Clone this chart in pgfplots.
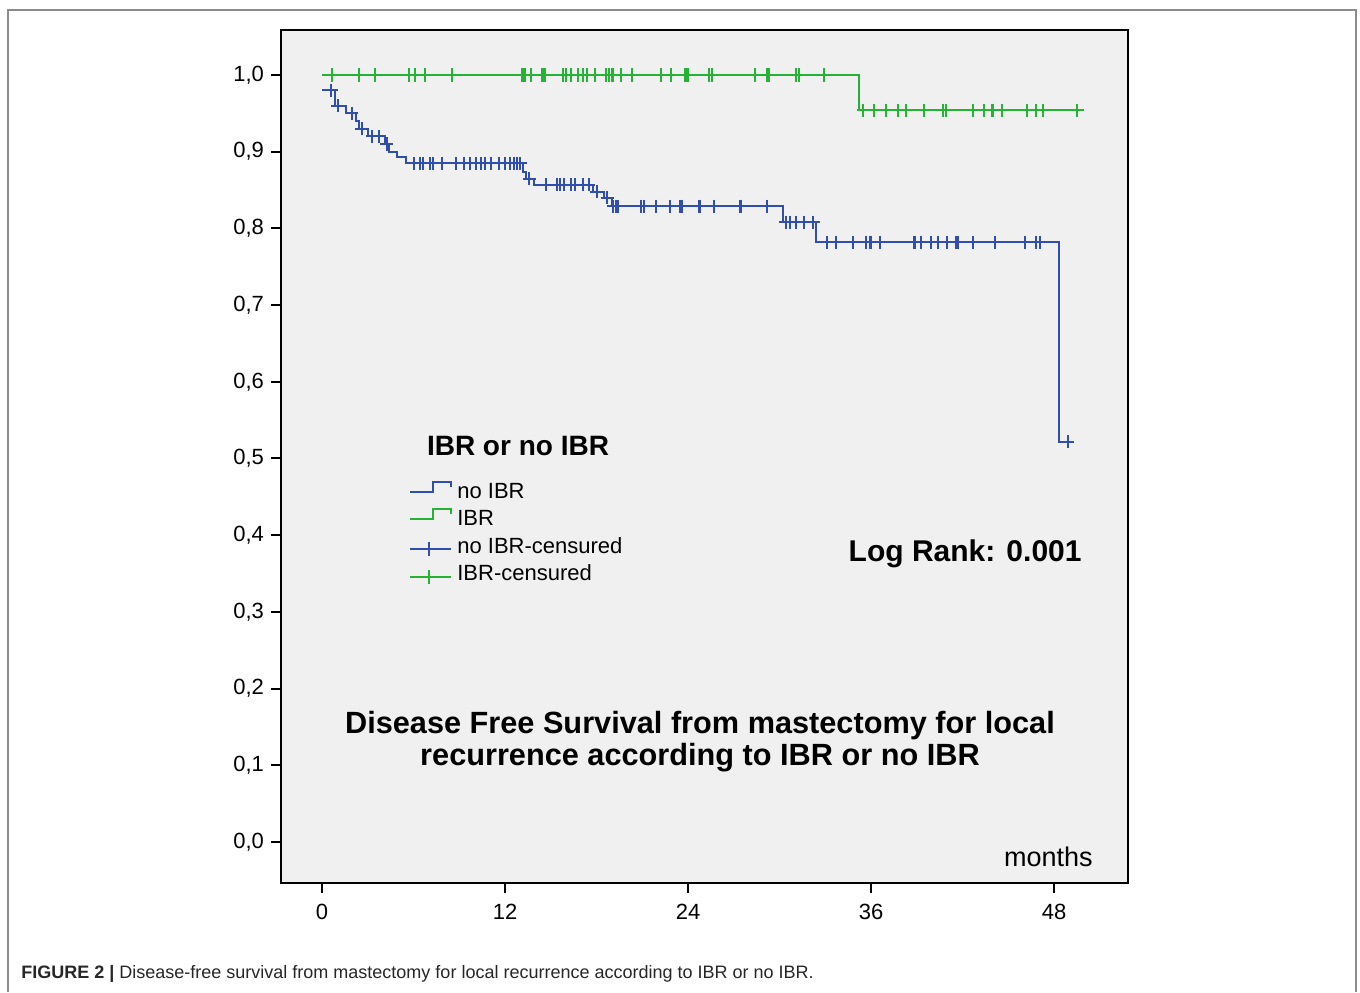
\documentclass[border=0pt]{standalone}
\usepackage{pgfplots}
\pgfplotsset{compat=1.18}
\usepackage{fontspec}
\setmainfont{Liberation Sans}
\definecolor{kmblue}{RGB}{48,78,172}
\definecolor{kmgreen}{RGB}{38,178,52}
\definecolor{plotbg}{RGB}{240,240,240}
\definecolor{framegray}{RGB}{140,140,140}
\begin{document}
\begin{tikzpicture}
\path[use as bounding box] (0pt,0pt) rectangle (680pt,496pt);
\draw[framegray, line width=0.9pt] (4pt,0pt) -- (4pt,491pt) -- (678pt,491pt) -- (678pt,0pt);
\begin{axis}[
  at={(140.5pt,54.5pt)}, anchor=south west,
  scale only axis, width=423.5pt, height=426.5pt,
  xmin=-2.689, xmax=52.85, ymin=-0.0535, ymax=1.0587,
  axis background/.style={fill=plotbg},
  axis line style={black, line width=1.3pt},
  xtick={0,12,24,36,48},
  ytick={0,0.1,0.2,0.3,0.4,0.5,0.6,0.7,0.8,0.9,1.0},
  xtick pos=bottom, ytick pos=left,
  tick align=outside, major tick length=5pt,
  tick style={black, line width=1pt},
  /pgf/number format/assume math mode=true,
  yticklabel style={/pgf/number format/.cd, fixed, fixed zerofill, precision=1, use comma},
  xticklabel style={yshift=-2pt},
  ticklabel style={font=\fontsize{11}{13}\selectfont},
  legend style={at={(rel axis cs:0.1515,0.4744)}, anchor=north west, draw=none, fill=none,
    inner sep=0pt, outer sep=0pt, row sep=0pt, column sep=2.5pt,
    font=\fontsize{11}{13}\selectfont,
    nodes={inner sep=0pt, text height=10pt, text depth=3.7pt}},
  legend cell align=left,
]
\addplot[const plot, kmblue, line width=1pt, no marks,
  legend image code/.code={\draw[kmblue, line width=1pt] (0pt,0pt) -- (11.5pt,0pt) -- (11.5pt,5pt) -- (20.5pt,5pt) -- (20.5pt,2.5pt);}]
coordinates {
(0,0.980) (0.85,0.960) (1.6,0.950) (2.2,0.940) (2.4,0.930) (3.0,0.920) (4.1,0.910)
(4.4,0.900) (4.9,0.893) (5.5,0.885) (13.2,0.873) (13.4,0.865) (13.9,0.857)
(17.8,0.848) (18.5,0.840) (19.0,0.829) (30.2,0.808) (32.4,0.782) (48.3,0.522) (48.9,0.522)
};
\addlegendentry{no IBR}
\addplot[const plot, kmgreen, line width=1pt, no marks,
  legend image code/.code={\draw[kmgreen, line width=1pt] (0pt,0pt) -- (11.5pt,0pt) -- (11.5pt,5pt) -- (20.5pt,5pt) -- (20.5pt,2.5pt);}]
coordinates {(0,1.0) (35.2,0.954) (49.5,0.954)};
\addlegendentry{IBR}
\addplot[only marks, mark=+, mark size=3.3pt, kmblue, mark options={line width=1pt},
  legend image code/.code={\draw[kmblue, line width=1pt] (0pt,-1.2pt) -- (20.5pt,-1.2pt); \draw[kmblue, line width=1pt] (9.5pt,-4.7pt) -- (9.5pt,2.3pt);}]
coordinates {
(0.6,0.980) (1.05,0.960) (1.95,0.950) (2.6,0.930) (3.3,0.920) (3.75,0.920) (4.25,0.910)
(6.0,0.885) (6.4,0.885) (6.6,0.885) (7.1,0.885) (7.3,0.885) (7.9,0.885) (8.8,0.885)
(9.3,0.885) (9.7,0.885) (10.1,0.885) (10.4,0.885) (10.7,0.885) (11.1,0.885) (11.6,0.885)
(12.0,0.885) (12.3,0.885) (12.6,0.885) (12.8,0.885) (13.0,0.885)
(13.6,0.865)
(14.7,0.857) (15.4,0.857) (15.6,0.857) (15.9,0.857) (16.3,0.857) (16.6,0.857) (17.1,0.857) (17.5,0.857)
(18.0,0.848) (18.7,0.840)
(19.1,0.829) (19.3,0.829) (19.4,0.829) (20.9,0.829) (21.1,0.829) (21.9,0.829) (22.8,0.829)
(23.5,0.829) (23.6,0.829) (24.7,0.829) (24.8,0.829) (25.7,0.829) (27.4,0.829) (27.5,0.829) (29.2,0.829)
(30.4,0.808) (30.7,0.808) (31.1,0.808) (31.6,0.808) (32.2,0.808)
(33.1,0.782) (33.7,0.782) (34.8,0.782) (35.7,0.782) (35.9,0.782) (36.0,0.782) (36.6,0.782)
(38.8,0.782) (38.9,0.782) (39.3,0.782) (39.9,0.782) (40.4,0.782) (41.0,0.782) (41.6,0.782)
(41.7,0.782) (42.7,0.782) (44.1,0.782) (46.1,0.782) (46.8,0.782) (47.1,0.782)
(48.9,0.522)
};
\addlegendentry{no IBR-censured}
\addplot[only marks, mark=+, mark size=3.3pt, kmgreen, mark options={line width=1pt},
  legend image code/.code={\draw[kmgreen, line width=1pt] (0pt,-1.2pt) -- (20.5pt,-1.2pt); \draw[kmgreen, line width=1pt] (9.5pt,-4.7pt) -- (9.5pt,2.3pt);}]
coordinates {
(0.64,1) (2.4,1) (3.5,1) (5.7,1) (6.1,1) (6.75,1) (8.5,1) (13.1,1) (13.2,1) (13.3,1)
(13.7,1) (14.4,1) (14.5,1) (14.6,1) (15.8,1) (16.0,1) (16.3,1) (16.8,1) (17.1,1) (17.4,1)
(17.9,1) (18.6,1) (18.8,1) (19.0,1) (19.1,1) (19.6,1) (20.3,1) (22.2,1) (22.9,1) (23.8,1)
(23.9,1) (24.0,1) (25.4,1) (25.6,1) (28.4,1) (29.2,1) (29.3,1) (31.1,1) (31.3,1) (32.9,1)
(35.5,0.954) (36.2,0.954) (37.0,0.954) (37.8,0.954) (38.3,0.954) (39.5,0.954) (40.7,0.954)
(40.9,0.954) (42.7,0.954) (43.4,0.954) (43.9,0.954) (44.0,0.954) (44.6,0.954) (46.2,0.954)
(46.8,0.954) (47.3,0.954) (49.5,0.954)
};
\addlegendentry{IBR-censured}
\end{axis}
\node[anchor=base, inner sep=0pt] at (259pt,268.15pt) {\fontsize{14}{16}\selectfont\bfseries IBR or no IBR};
\node[anchor=base west, inner sep=0pt] at (424.15pt,215.15pt) {\fontsize{15}{17}\selectfont\bfseries Log Rank: 0.001};
\node[anchor=base, inner sep=0pt] at (350pt,129.5pt) {\fontsize{15.35}{17}\selectfont\bfseries Disease Free Survival from mastectomy for local};
\node[anchor=base, inner sep=0pt] at (350pt,113.5pt) {\fontsize{15.35}{17}\selectfont\bfseries recurrence according to IBR or no IBR};
\node[anchor=base east, inner sep=0pt] at (546.5pt,62.65pt) {\fontsize{13.5}{15}\selectfont months};
\node[anchor=base west, inner sep=0pt, text=black!85] at (10.5pt,6.85pt) {\fontsize{9}{11}\selectfont\textbf{FIGURE 2 |} Disease-free survival from mastectomy for local recurrence according to IBR or no IBR.};
\end{tikzpicture}
\end{document}
